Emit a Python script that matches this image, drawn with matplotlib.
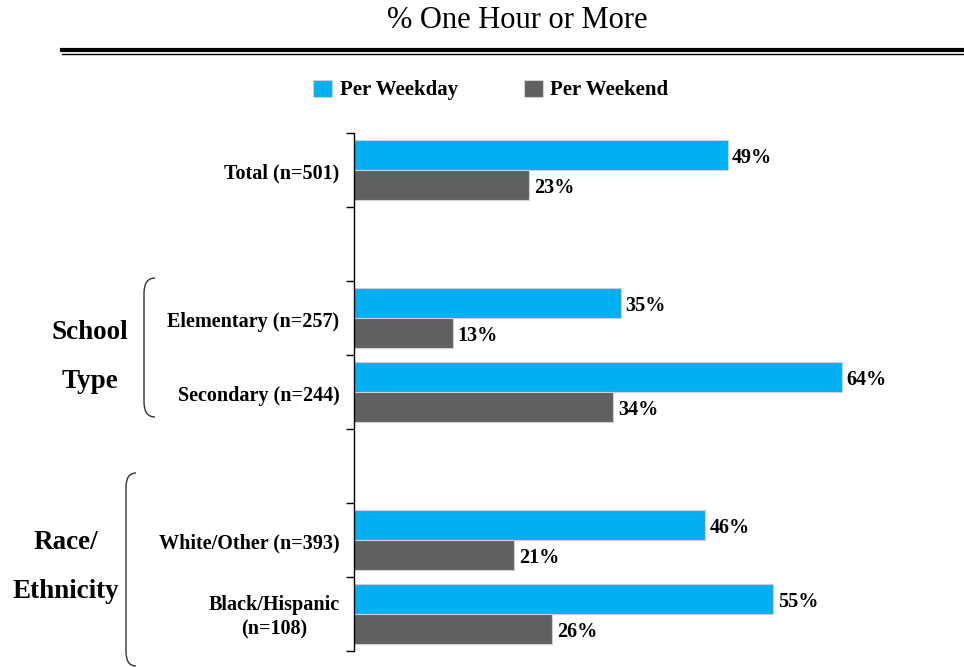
import matplotlib.pyplot as plt
from matplotlib.path import Path
from matplotlib.patches import PathPatch
from matplotlib.lines import Line2D

# Donnees (None = ligne vide)
categories = ['Total (n=501)', None, 'Elementary (n=257)', 'Secondary (n=244)',
              None, 'White/Other (n=393)', 'Black/Hispanic\n(n=108)']
weekday = [49, None, 35, 64, None, 46, 55]
weekend = [23, None, 13, 34, None, 21, 26]
series_names = ['Per Weekday', 'Per Weekend']
group_labels = ['School\n\nType', 'Race/\n\nEthnicity']

BLUE = '#00B0F0'
GRAY = '#606060'
SERIF = 'Liberation Serif'

W, H = 964, 667
fig = plt.figure(figsize=(W / 100, H / 100), dpi=100)

# Axe: x de 354 a 964 px, y de 133 a 651 px
ax = fig.add_axes([354 / W, 1 - 651 / H, (W - 354) / W, 518 / H])

rows = [i for i, c in enumerate(categories) if c is not None]
ypos = [i + 0.5 for i in rows]
bh = 0.405
b1 = ax.barh([y - 0.205 for y in ypos], [weekday[i] for i in rows], height=bh,
             color=BLUE, edgecolor='#d0d0d0', linewidth=0.8, label=series_names[0])
b2 = ax.barh([y + 0.205 for y in ypos], [weekend[i] for i in rows], height=bh,
             color=GRAY, edgecolor='#d0d0d0', linewidth=0.8, label=series_names[1])

for bars in (b1, b2):
    for rect in bars:
        v = rect.get_width()
        ax.text(v + 0.6, rect.get_y() + rect.get_height() / 2 + 0.04, f'{v:.0f}%',
                ha='left', va='center', fontsize=14.5, fontweight='bold',
                family=SERIF)

ax.set_xlim(0, 80)
ax.set_ylim(len(categories), 0)
for s in ['top', 'right', 'bottom']:
    ax.spines[s].set_visible(False)
ax.spines['left'].set_linewidth(1.0)
ax.set_xticks([])
ax.set_yticks(range(len(categories) + 1))
ax.set_yticklabels([])
ax.tick_params(axis='y', length=6, width=1.0, direction='out')

# Libelles des categories
for i in rows:
    ax.text(-1.9, i + 0.55, categories[i], ha='right', va='center',
            multialignment='center', fontsize=14.5, fontweight='bold',
            family=SERIF, linespacing=1.3)

# Titre et double trait
fig.text(517 / W, 1 - 21 / H, '% One Hour or More', ha='center', va='center',
         fontsize=22, family=SERIF)
fig.add_artist(Line2D([62 / W, 1], [1 - 49.7 / H] * 2, color='black',
                      lw=3.0, transform=fig.transFigure))
fig.add_artist(Line2D([62 / W, 1], [1 - 53.7 / H] * 2, color='black',
                      lw=1.0, transform=fig.transFigure))

# Legende
fig.legend(handles=[b1, b2], labels=series_names, loc='center',
           bbox_to_anchor=(491 / W, 1 - 90 / H), ncol=2, frameon=False,
           prop={'family': SERIF, 'weight': 'bold', 'size': 15},
           handlelength=0.9, handleheight=0.9, handletextpad=0.35,
           columnspacing=3.2)

# Groupes et accolades
fig.text(90 / W, 1 - 357 / H, group_labels[0], ha='center', va='center',
         fontsize=19.5, fontweight='bold', family=SERIF, linespacing=0.95)
fig.text(66 / W, 1 - 567 / H, group_labels[1], ha='center', va='center',
         fontsize=19.5, fontweight='bold', family=SERIF, linespacing=0.95)


def bracket(x0, x1, ytop, ybot):
    r = x1 - x0
    pts = [(x1, ytop), (x0, ytop), (x0, ytop + r * 1.4),
           (x0, ybot - r * 1.4), (x0, ybot), (x1, ybot)]
    pts = [(x / W, 1 - y / H) for x, y in pts]
    codes = [Path.MOVETO, Path.CURVE3, Path.CURVE3,
             Path.LINETO, Path.CURVE3, Path.CURVE3]
    fig.add_artist(PathPatch(Path(pts, codes), fill=False, lw=1.0,
                             edgecolor='#333333', transform=fig.transFigure))


bracket(144, 155, 278, 417)
bracket(126, 136, 473, 666)

fig.savefig('out.png', dpi=100)
